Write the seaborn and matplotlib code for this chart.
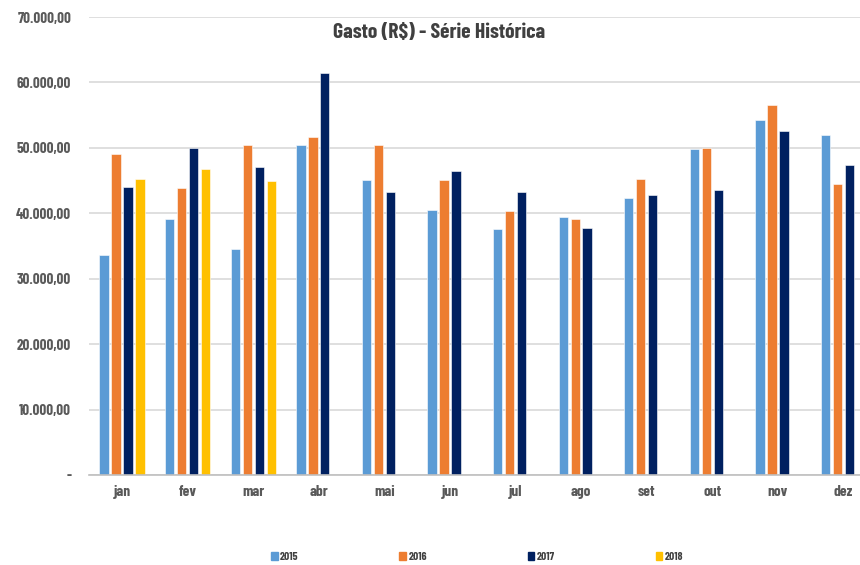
import matplotlib
matplotlib.use("Agg")
import matplotlib.pyplot as plt
import seaborn as sns
import pandas as pd
import numpy as np
from matplotlib.ticker import FuncFormatter, FixedLocator

meses = ["jan", "fev", "mar", "abr", "mai", "jun", "jul", "ago", "set", "out", "nov", "dez"]
anos = ["2015", "2016", "2017", "2018"]
v2015 = [33700, 39200, 34500, 50400, 45100, 40500, 37600, 39500, 42400, 49800, 54200, 51900]
v2016 = [49000, 43800, 50500, 51600, 50500, 45100, 40300, 39200, 45200, 50050, 56500, 44400]
v2017 = [44000, 50000, 47100, 61400, 43300, 46500, 43300, 37700, 42800, 43600, 52600, 47400]
v2018 = [45200, 46700, 45000, np.nan, np.nan, np.nan, np.nan, np.nan, np.nan, np.nan, np.nan, np.nan]
cores = ["#5B9BD5", "#ED7D31", "#002060", "#FFC000"]
titulo = "Gasto (R$) - Série Histórica"

rows = []
for ano, vals in zip(anos, [v2015, v2016, v2017, v2018]):
    for m, v in zip(meses, vals):
        rows.append({"mes": m, "ano": ano, "valor": v})
df = pd.DataFrame(rows)

sns.set_theme(style="white")
plt.rcParams["font.family"] = ["Barlow Condensed", "DejaVu Sans"]

fig = plt.figure(figsize=(8.6, 5.65), dpi=100)
ax = fig.add_axes([89.3 / 860, 90 / 565, 787 / 860, 458 / 565])

sns.barplot(data=df, x="mes", y="valor", hue="ano", order=meses, hue_order=anos,
            palette=cores, width=0.73, gap=0.22, ax=ax, legend=False,
            edgecolor="white", linewidth=0.4, saturation=1)

ax.set_ylim(0, 70000)
ax.set_xlim(-0.5, 11.5)
ax.set_yticks(np.arange(0, 70001, 10000))


def fmt(v, pos):
    if v == 0:
        return "-"
    s = f"{int(round(v)):,}".replace(",", ".")
    return s + ",00"


ax.yaxis.set_major_formatter(FuncFormatter(fmt))
ax.grid(axis="y", color="#D9D9D9", linewidth=1.2)
ax.set_axisbelow(True)
for s in ["left", "right", "top"]:
    ax.spines[s].set_visible(False)
ax.spines["bottom"].set_color("#BFBFBF")
ax.spines["bottom"].set_linewidth(1.2)
ax.set_xlabel("")
ax.set_ylabel("")

ax.tick_params(axis="y", length=0, pad=13, labelsize=10.8, labelcolor="#595959")
ax.tick_params(axis="x", which="major", length=0, pad=7, labelsize=11, labelcolor="#595959")
ax.xaxis.set_minor_locator(FixedLocator(np.arange(-0.5, 12, 1)))
ax.tick_params(axis="x", which="minor", length=5, width=1.2, color="#BFBFBF", direction="out")
for lab in ax.get_xticklabels() + ax.get_yticklabels():
    lab.set_fontweight("bold")

fig.text(439 / 860, 1 - 32 / 565, titulo, ha="center", va="center",
         fontsize=15.5, fontweight="bold", color="#404040")

handles = [plt.Rectangle((0, 0), 1, 1, color=c) for c in cores]
fig.legend(handles, anos, loc="center", bbox_to_anchor=(477 / 860, 1 - 557 / 565),
           ncol=4, frameon=False, handlelength=0.6, handleheight=0.6, handletextpad=0.2,
           columnspacing=8.85, prop={"size": 8.2, "weight": "bold"}, labelcolor="#404040")

fig.savefig("out.png", dpi=100)
